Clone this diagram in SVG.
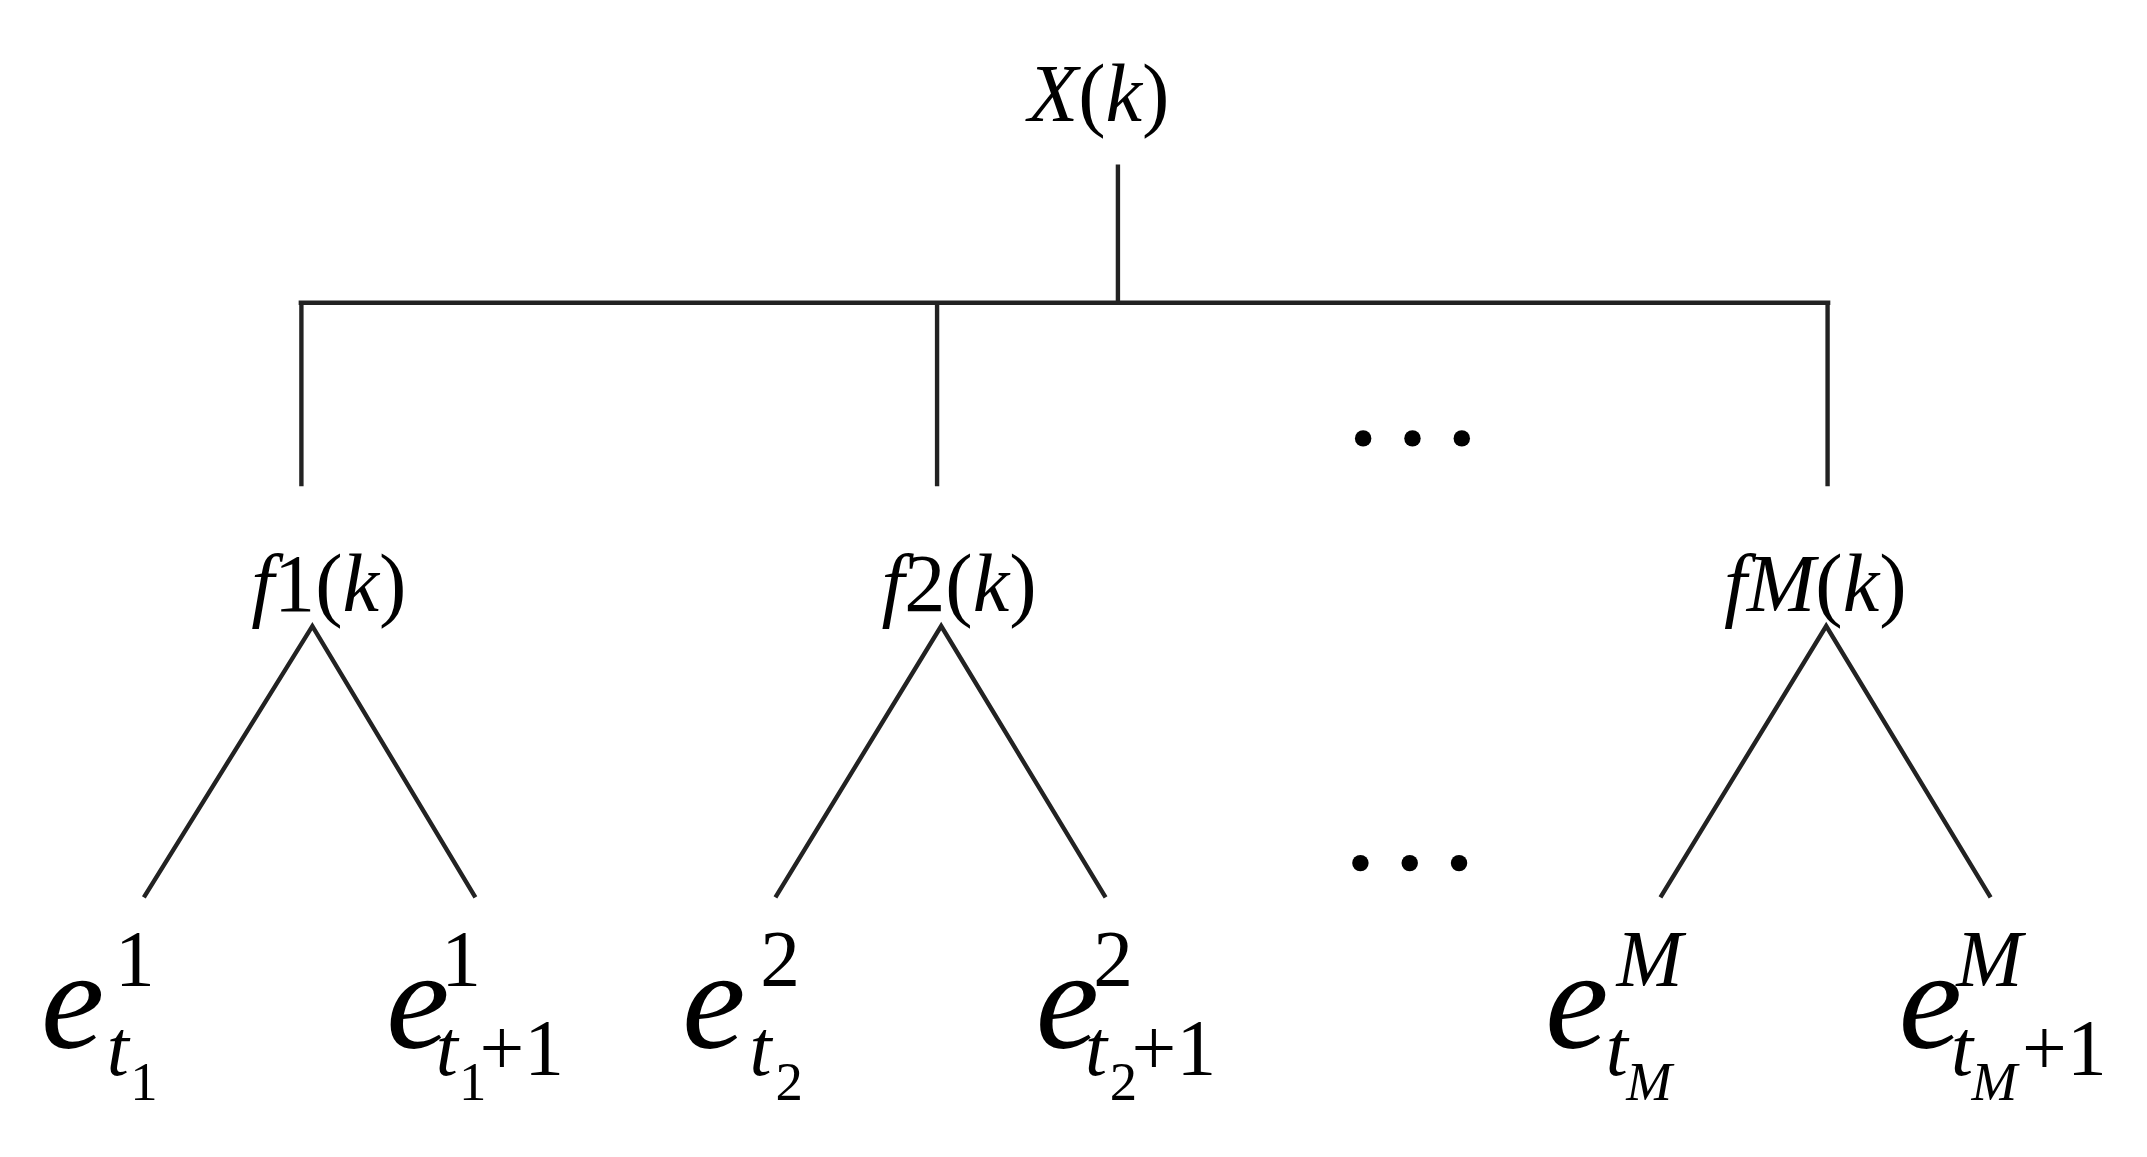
<svg xmlns="http://www.w3.org/2000/svg" width="2147" height="1157" viewBox="0 0 2147 1157">
<style>
text{font-family:"Liberation Serif","Times New Roman",serif;fill:#000}
.i{font-style:italic}
.n{font-size:60px}
.e{font-size:104px;font-style:italic}
.s{font-size:58px}
.ss{font-size:40px}
line{stroke:#222;stroke-width:3.2}
</style>
<rect width="2147" height="1157" fill="#fff"/>
<g transform="scale(1.37)">
<g id="connectors">
<line x1="816" y1="120" x2="816" y2="221"/>
<line x1="218" y1="221" x2="1336" y2="221" stroke-width="4.5"/>
<line x1="220" y1="221" x2="220" y2="355"/>
<line x1="684" y1="221" x2="684" y2="355"/>
<line x1="1334" y1="221" x2="1334" y2="355"/>
<polyline points="105,655 228,457 347,655" fill="none" stroke="#222" stroke-width="3.2"/>
<polyline points="566,655 687,457 807,655" fill="none" stroke="#222" stroke-width="3.2"/>
<polyline points="1212,655 1333,457 1453,655" fill="none" stroke="#222" stroke-width="3.2"/>
</g>
<g id="dots1"><circle cx="995" cy="320" r="6"/><circle cx="1031" cy="320" r="6"/><circle cx="1067" cy="320" r="6"/></g>
<g id="dots2"><circle cx="993" cy="630" r="6"/><circle cx="1029" cy="630" r="6"/><circle cx="1065" cy="630" r="6"/></g>
<g id="X"><text class="n" x="802" y="88" text-anchor="middle"><tspan class="i">X</tspan>(<tspan class="i">k</tspan>)</text></g>
<g id="f1"><text class="n" x="240" y="446" text-anchor="middle"><tspan class="i">f</tspan>1(<tspan class="i">k</tspan>)</text></g>
<g id="f2"><text class="n" x="700" y="446" text-anchor="middle"><tspan class="i">f</tspan>2(<tspan class="i">k</tspan>)</text></g>
<g id="fM"><text class="n" x="1325" y="446" text-anchor="middle"><tspan class="i">fM</tspan>(<tspan class="i">k</tspan>)</text></g>
<g id="e1"><text class="e" x="30" y="765">e</text><text class="s" x="84" y="720">1</text><text class="s i" x="78" y="785">t</text><text class="ss" x="95" y="803">1</text></g>
<g id="e1p"><text class="e" x="282" y="765">e</text><text class="s" x="322" y="720">1</text><text class="s i" x="318" y="785">t</text><text class="ss" x="335" y="803">1</text><text class="s" x="350" y="785">+1</text></g>
<g id="e2"><text class="e" x="498" y="765">e</text><text class="s" x="555" y="720">2</text><text class="s i" x="547" y="785">t</text><text class="ss" x="566" y="803">2</text></g>
<g id="e2p"><text class="e" x="756" y="765">e</text><text class="s" x="798" y="720">2</text><text class="s i" x="792" y="785">t</text><text class="ss" x="810" y="803">2</text><text class="s" x="826" y="785">+1</text></g>
<g id="eM"><text class="e" x="1128" y="765">e</text><text class="s i" x="1180" y="720">M</text><text class="s i" x="1172" y="785">t</text><text class="ss i" x="1187" y="803">M</text></g>
<g id="eMp"><text class="e" x="1386" y="765">e</text><text class="s i" x="1428" y="720">M</text><text class="s i" x="1424" y="785">t</text><text class="ss i" x="1439" y="803">M</text><text class="s" x="1476" y="785">+1</text></g>
</g>
</svg>
